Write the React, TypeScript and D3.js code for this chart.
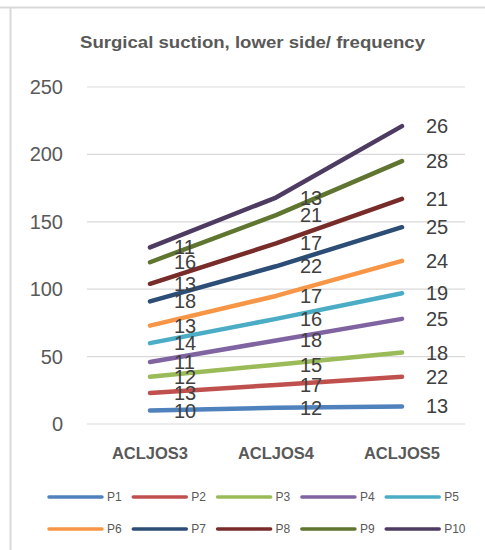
import React from "react";
import * as d3 from "d3";

const categories = ["ACLJOS3", "ACLJOS4", "ACLJOS5"];
const seriesNames = ["P1", "P2", "P3", "P4", "P5", "P6", "P7", "P8", "P9", "P10"];
const P1 = [10, 12, 13];
const P2 = [13, 17, 22];
const P3 = [12, 15, 18];
const P4 = [11, 18, 25];
const P5 = [14, 16, 19];
const P6 = [13, 17, 24];
const P7 = [18, 22, 25];
const P8 = [13, 17, 21];
const P9 = [16, 21, 28];
const P10 = [11, 13, 26];
const seriesValues = [P1, P2, P3, P4, P5, P6, P7, P8, P9, P10];
const colors = ["#4F81BD", "#C0504D", "#9BBB59", "#8064A2", "#4BACC6", "#F79646", "#2C4D75", "#772C2A", "#5F7530", "#4D3B62"];
const yTicks = [0, 50, 100, 150, 200, 250];
const title = "Surgical suction, lower side/ frequency";

const W = 485, H = 550;
const plotLeft = 87, plotRight = 465, plotTop = 87, plotBottom = 424;

export default function App() {
  const x = d3.scaleBand<string>().domain(categories).range([plotLeft, plotRight]);
  const cx = (c: string) => (x(c) as number) + x.bandwidth() / 2;
  const y = d3.scaleLinear().domain([0, 250]).range([plotBottom, plotTop]);

  // stacked cumulative values
  const stacked: number[][] = [];
  seriesValues.forEach((vals, i) => {
    stacked.push(vals.map((v, j) => v + (i > 0 ? stacked[i - 1][j] : 0)));
  });

  const line = d3
    .line<number>()
    .x((_, j) => cx(categories[j]))
    .y((d) => y(d));

  const font = "'Liberation Sans', Arial, sans-serif";

  return (
    <svg width={W} height={H} style={{ position: "absolute", left: 0, top: 0, background: "#fff" }} fontFamily={font}>
      <rect x={0} y={0} width={W} height={H} fill="#fff" />
      <line x1={0} x2={W} y1={7.5} y2={7.5} stroke="#d9d9d9" strokeWidth={2} />
      <line x1={10.5} x2={10.5} y1={7} y2={H} stroke="#d9d9d9" strokeWidth={2} />
      <text x={80} y={48} fontSize={17} fontWeight="bold" fill="#595959" textLength={345} lengthAdjust="spacingAndGlyphs">
        {title}
      </text>
      {yTicks.map((t) => (
        <g key={t}>
          <line x1={plotLeft} x2={plotRight} y1={y(t)} y2={y(t)} stroke="#d9d9d9" strokeWidth={1.2} />
          <text x={63} y={y(t)} textAnchor="end" dominantBaseline="central" fontSize={20} fill="#595959">
            {t}
          </text>
        </g>
      ))}
      {categories.map((c) => (
        <text key={c} x={cx(c)} y={453} textAnchor="middle" dominantBaseline="central" fontSize={16.5} fontWeight="bold" fill="#595959">
          {c}
        </text>
      ))}
      {stacked.map((vals, i) => (
        <path key={i} d={line(vals) || ""} fill="none" stroke={colors[i]} strokeWidth={4.5} strokeLinecap="round" strokeLinejoin="round" />
      ))}
      {stacked.map((vals, i) =>
        vals.map((v, j) => (
          <text key={i + "-" + j} x={cx(categories[j]) + 24} y={y(v)} dominantBaseline="central" fontSize={20} fill="#404040">
            {seriesValues[i][j]}
          </text>
        ))
      )}
      {seriesNames.map((s, i) => {
        const col = i % 5, row = Math.floor(i / 5);
        const lx = 49 + col * 84.3;
        const ly = row === 0 ? 497 : 529;
        return (
          <g key={s}>
            <line x1={lx} x2={lx + 53} y1={ly} y2={ly} stroke={colors[i]} strokeWidth={3.5} strokeLinecap="round" />
            <text x={lx + 58} y={ly} dominantBaseline="central" fontSize={12} fill="#595959">
              {s}
            </text>
          </g>
        );
      })}
    </svg>
  );
}
